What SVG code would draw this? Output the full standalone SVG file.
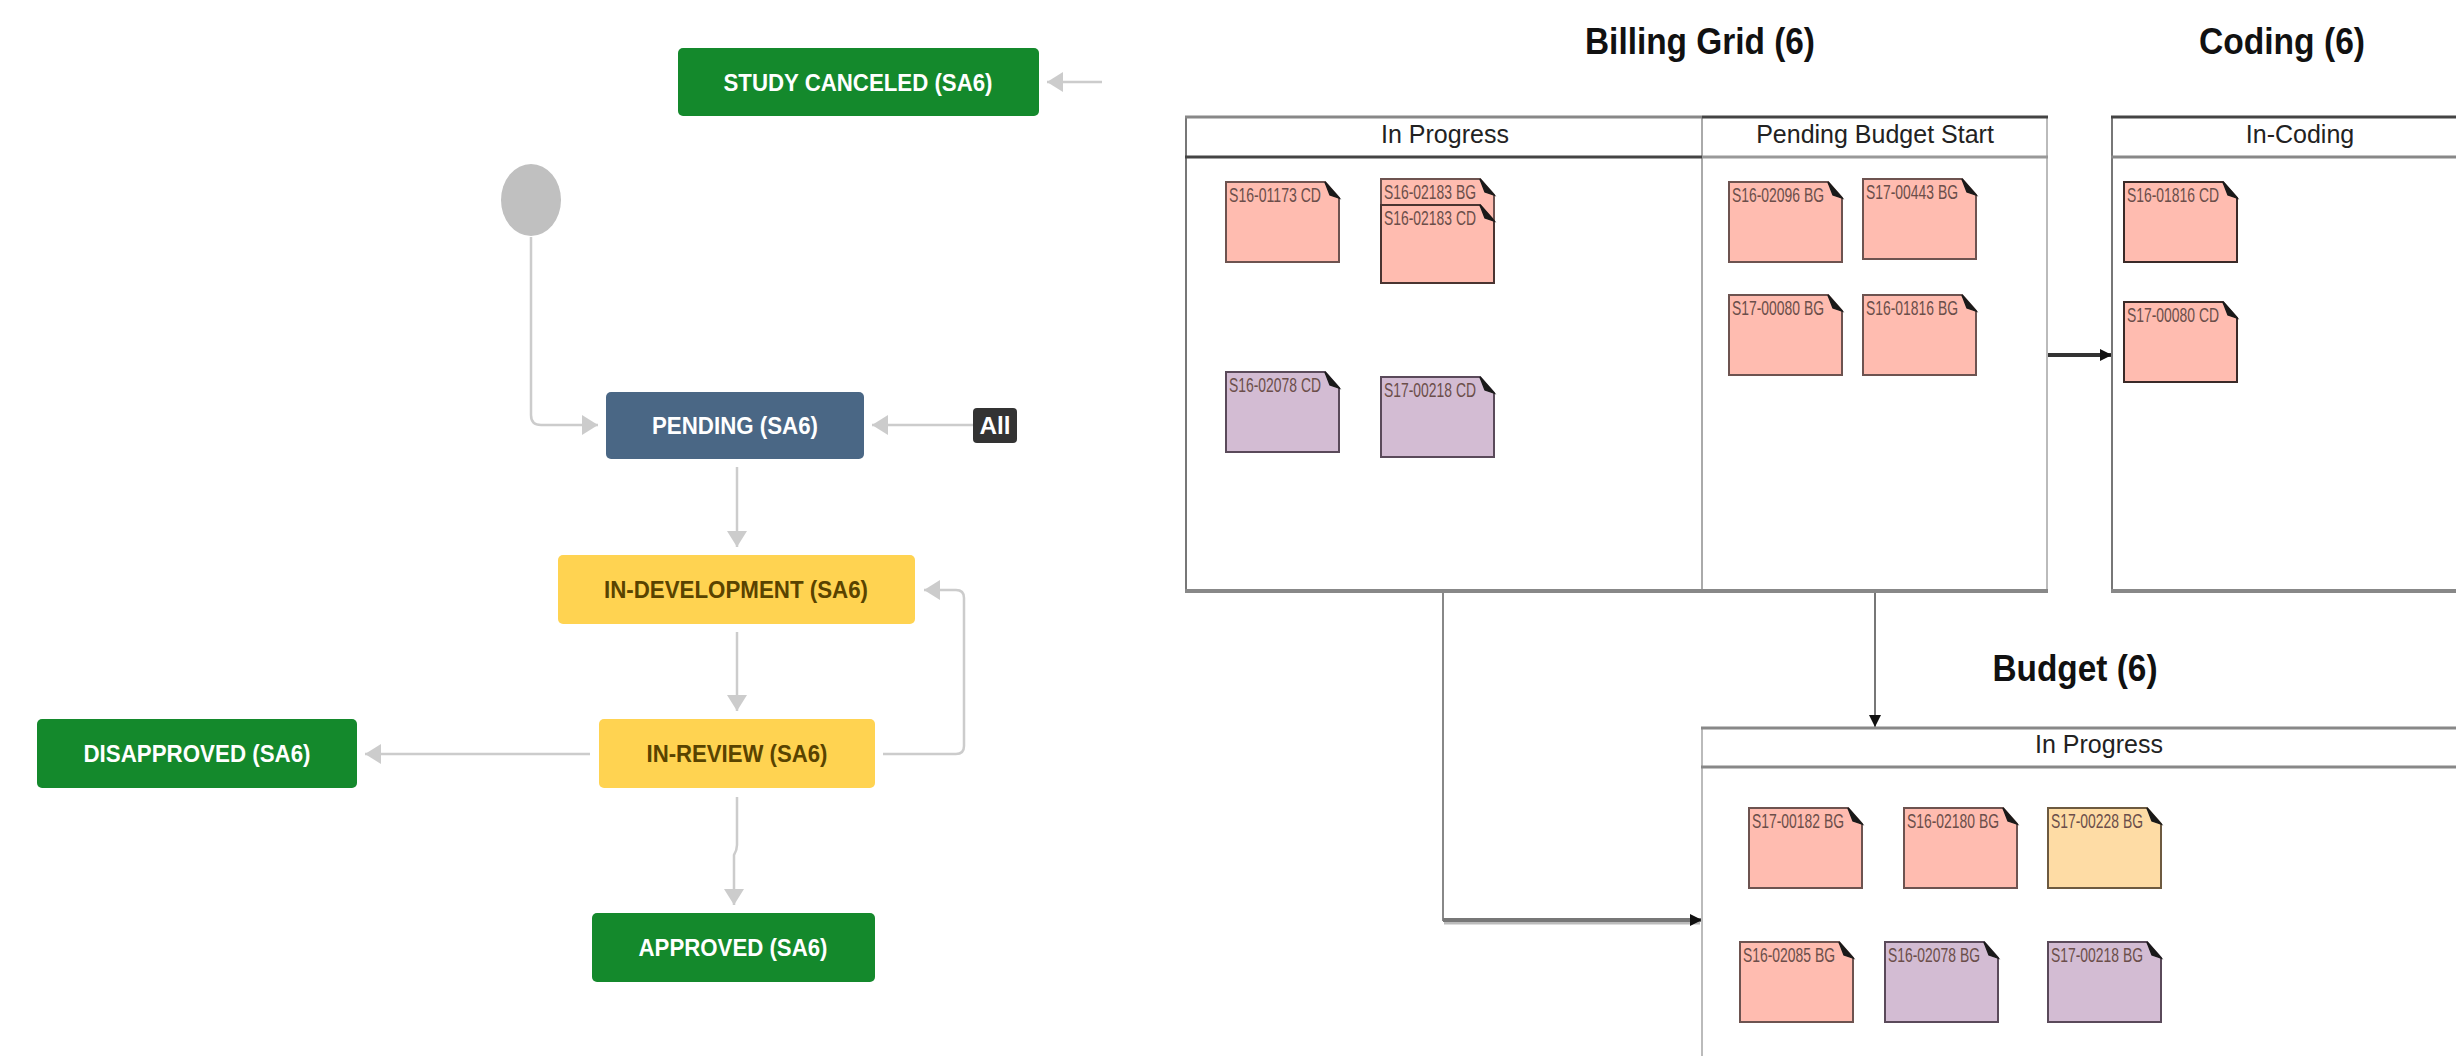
<svg xmlns="http://www.w3.org/2000/svg" xmlns:xlink="http://www.w3.org/1999/xlink" width="2456" height="1056" viewBox="0 0 2456 1056">
<style>
.wf{font-family:"Liberation Sans",Arial,sans-serif;font-weight:bold;font-size:24px;text-anchor:middle}
.wt{fill:#ffffff}
.yt{fill:#594300}
.green{fill:#14892c}
.blue{fill:#4a6785}
.yellow{fill:#ffd351}
.conn{fill:none;stroke:#cccccc;stroke-width:2.5}
.title{font-family:"Liberation Sans",Arial,sans-serif;font-weight:bold;font-size:36px;text-anchor:middle;fill:#111}
.hdr{font-family:"Liberation Sans",Arial,sans-serif;font-size:25px;text-anchor:middle;fill:#222}
.ctext{font-family:"Liberation Sans",Arial,sans-serif;font-size:20px;fill:#6b4e4a}
.pink{fill:#ffbcb0;stroke:#6d5350;stroke-width:2}
.purple{fill:#d3bcd3;stroke:#5a4a5a;stroke-width:2}
.peach{fill:#fedca5;stroke:#6d5a40;stroke-width:2}
.fold{fill:#1a1a1a;stroke:#1a1a1a;stroke-width:1.5}
</style>
<defs>
<marker id="ga" markerUnits="userSpaceOnUse" markerWidth="16" markerHeight="20" refX="16" refY="10" orient="auto">
<path d="M0,0 L16,10 L0,20 Z" fill="#cccccc"/>
</marker>
<marker id="ba" markerUnits="userSpaceOnUse" markerWidth="12" markerHeight="12" refX="12" refY="6" orient="auto">
<path d="M0,0 L12,6 L0,12 Z" fill="#111111"/>
</marker>
<path id="card" d="M0,0 H99 L113,16 V80 H0 Z"/>
<path id="card78" d="M0,0 H99 L113,16 V78 H0 Z"/>
<path id="foldp" d="M99,0 L113,16 L104,13 Z"/>
</defs>
<rect width="2456" height="1056" fill="#ffffff"/>

<g id="workflow-connectors">
<line class="conn" x1="1102" y1="82" x2="1047" y2="82" marker-end="url(#ga)"/>
<path class="conn" d="M531,237 V415 Q531,425 541,425 H598" marker-end="url(#ga)"/>
<line class="conn" x1="973" y1="425" x2="872" y2="425" marker-end="url(#ga)"/>
<line class="conn" x1="737" y1="467" x2="737" y2="547" marker-end="url(#ga)"/>
<line class="conn" x1="737" y1="632" x2="737" y2="711" marker-end="url(#ga)"/>
<line class="conn" x1="590" y1="754" x2="365" y2="754" marker-end="url(#ga)"/>
<path class="conn" d="M883,754 H956 Q964,754 964,746 V598 Q964,590 956,590 H924" marker-end="url(#ga)"/>
<path class="conn" d="M737,797 V845 Q737,850 734,855 L734,905" marker-end="url(#ga)"/>
</g>

<g id="start"><ellipse cx="531" cy="200" rx="30" ry="36" fill="#c0c0c0"/></g>
<g id="study-canceled">
<rect class="green" x="678" y="48" width="361" height="68" rx="5"/>
<text class="wf wt" x="858" y="91" textLength="269" lengthAdjust="spacingAndGlyphs">STUDY CANCELED (SA6)</text>
</g>
<g id="pending">
<rect class="blue" x="606" y="392" width="258" height="67" rx="5"/>
<text class="wf wt" x="735" y="434" textLength="166" lengthAdjust="spacingAndGlyphs">PENDING (SA6)</text>
</g>
<g id="all">
<rect x="973" y="408" width="44" height="35" rx="4" fill="#333333"/>
<text class="wf wt" x="995" y="434" textLength="31" lengthAdjust="spacingAndGlyphs">All</text>
</g>
<g id="in-development">
<rect class="yellow" x="558" y="555" width="357" height="69" rx="5"/>
<text class="wf yt" x="736" y="598" textLength="264" lengthAdjust="spacingAndGlyphs">IN-DEVELOPMENT (SA6)</text>
</g>
<g id="in-review">
<rect class="yellow" x="599" y="719" width="276" height="69" rx="5"/>
<text class="wf yt" x="737" y="762" textLength="181" lengthAdjust="spacingAndGlyphs">IN-REVIEW (SA6)</text>
</g>
<g id="disapproved">
<rect class="green" x="37" y="719" width="320" height="69" rx="5"/>
<text class="wf wt" x="197" y="762" textLength="227" lengthAdjust="spacingAndGlyphs">DISAPPROVED (SA6)</text>
</g>
<g id="approved">
<rect class="green" x="592" y="913" width="283" height="69" rx="5"/>
<text class="wf wt" x="733" y="956" textLength="189" lengthAdjust="spacingAndGlyphs">APPROVED (SA6)</text>
</g>

<g id="board-connectors">
<line x1="2047" y1="355" x2="2112" y2="355" stroke="#333333" stroke-width="4" marker-end="url(#ba)"/>
<line x1="1875" y1="592" x2="1875" y2="727" stroke="#777777" stroke-width="2" marker-end="url(#ba)"/>
<line x1="1443" y1="592" x2="1443" y2="921" stroke="#888888" stroke-width="2"/>
<line x1="1444" y1="923" x2="1700" y2="923" stroke="#bbbbbb" stroke-width="3"/>
<line x1="1443" y1="920" x2="1702" y2="920" stroke="#777777" stroke-width="4" marker-end="url(#ba)"/>
</g>

<g id="billing-grid">
<text class="title" x="1700" y="54" textLength="230" lengthAdjust="spacingAndGlyphs">Billing Grid (6)</text>
<line x1="1186" y1="116" x2="1186" y2="592" stroke="#777" stroke-width="2"/>
<line x1="1702" y1="116" x2="1702" y2="592" stroke="#aaa" stroke-width="2"/>
<line x1="2047" y1="116" x2="2047" y2="592" stroke="#bbb" stroke-width="2"/>
<line x1="1185" y1="117" x2="1702" y2="117" stroke="#888" stroke-width="3"/>
<line x1="1702" y1="117" x2="2048" y2="117" stroke="#444" stroke-width="3"/>
<line x1="1185" y1="157" x2="1702" y2="157" stroke="#444" stroke-width="3"/>
<line x1="1702" y1="157" x2="2048" y2="157" stroke="#999" stroke-width="3"/>
<line x1="1185" y1="591" x2="2048" y2="591" stroke="#888" stroke-width="4"/>
<text class="hdr" x="1445" y="143">In Progress</text>
<text class="hdr" x="1875" y="143">Pending Budget Start</text>
</g>

<g id="coding">
<text class="title" x="2282" y="54" textLength="166" lengthAdjust="spacingAndGlyphs">Coding (6)</text>
<line x1="2112" y1="116" x2="2112" y2="592" stroke="#777" stroke-width="2"/>
<line x1="2111" y1="117" x2="2456" y2="117" stroke="#444" stroke-width="3"/>
<line x1="2111" y1="157" x2="2456" y2="157" stroke="#888" stroke-width="3"/>
<line x1="2111" y1="591" x2="2456" y2="591" stroke="#888" stroke-width="4"/>
<text class="hdr" x="2300" y="143">In-Coding</text>
</g>

<g id="budget">
<text class="title" x="2075" y="681" textLength="165" lengthAdjust="spacingAndGlyphs">Budget (6)</text>
<line x1="1702" y1="727" x2="1702" y2="1056" stroke="#bbb" stroke-width="2"/>
<line x1="1701" y1="728" x2="2456" y2="728" stroke="#888" stroke-width="3"/>
<line x1="1701" y1="767" x2="2456" y2="767" stroke="#888" stroke-width="3"/>
<text class="hdr" x="2099" y="753">In Progress</text>
</g>

<g id="card-s16-01173-cd" transform="translate(1226,182)"><use href="#card" class="pink"/><use href="#foldp" class="fold"/><text class="ctext" x="3" y="20" textLength="92" lengthAdjust="spacingAndGlyphs">S16-01173 CD</text></g>
<g id="card-s16-02183-bg" transform="translate(1381,179)"><use href="#card" class="pink"/><use href="#foldp" class="fold"/><text class="ctext" x="3" y="20" textLength="92" lengthAdjust="spacingAndGlyphs">S16-02183 BG</text></g>
<g id="card-s16-02183-cd" transform="translate(1381,205)"><use href="#card78" class="pink" style="stroke:#4a3431"/><use href="#foldp" class="fold"/><text class="ctext" x="3" y="20" textLength="92" lengthAdjust="spacingAndGlyphs">S16-02183 CD</text></g>
<g id="card-s16-02078-cd" transform="translate(1226,372)"><use href="#card" class="purple"/><use href="#foldp" class="fold"/><text class="ctext" x="3" y="20" textLength="92" lengthAdjust="spacingAndGlyphs" fill="#5a4a5a">S16-02078 CD</text></g>
<g id="card-s17-00218-cd" transform="translate(1381,377)"><use href="#card" class="purple"/><use href="#foldp" class="fold"/><text class="ctext" x="3" y="20" textLength="92" lengthAdjust="spacingAndGlyphs" fill="#5a4a5a">S17-00218 CD</text></g>
<g id="card-s16-02096-bg" transform="translate(1729,182)"><use href="#card" class="pink"/><use href="#foldp" class="fold"/><text class="ctext" x="3" y="20" textLength="92" lengthAdjust="spacingAndGlyphs">S16-02096 BG</text></g>
<g id="card-s17-00443-bg" transform="translate(1863,179)"><use href="#card" class="pink"/><use href="#foldp" class="fold"/><text class="ctext" x="3" y="20" textLength="92" lengthAdjust="spacingAndGlyphs">S17-00443 BG</text></g>
<g id="card-s17-00080-bg" transform="translate(1729,295)"><use href="#card" class="pink"/><use href="#foldp" class="fold"/><text class="ctext" x="3" y="20" textLength="92" lengthAdjust="spacingAndGlyphs">S17-00080 BG</text></g>
<g id="card-s16-01816-bg" transform="translate(1863,295)"><use href="#card" class="pink"/><use href="#foldp" class="fold"/><text class="ctext" x="3" y="20" textLength="92" lengthAdjust="spacingAndGlyphs">S16-01816 BG</text></g>
<g id="card-s16-01816-cd" transform="translate(2124,182)"><use href="#card" class="pink" style="stroke:#3a2a28"/><use href="#foldp" class="fold"/><text class="ctext" x="3" y="20" textLength="92" lengthAdjust="spacingAndGlyphs">S16-01816 CD</text></g>
<g id="card-s17-00080-cd" transform="translate(2124,302)"><use href="#card" class="pink" style="stroke:#3a2a28"/><use href="#foldp" class="fold"/><text class="ctext" x="3" y="20" textLength="92" lengthAdjust="spacingAndGlyphs">S17-00080 CD</text></g>
<g id="card-s17-00182-bg" transform="translate(1749,808)"><use href="#card" class="pink"/><use href="#foldp" class="fold"/><text class="ctext" x="3" y="20" textLength="92" lengthAdjust="spacingAndGlyphs">S17-00182 BG</text></g>
<g id="card-s16-02180-bg" transform="translate(1904,808)"><use href="#card" class="pink"/><use href="#foldp" class="fold"/><text class="ctext" x="3" y="20" textLength="92" lengthAdjust="spacingAndGlyphs">S16-02180 BG</text></g>
<g id="card-s17-00228-bg" transform="translate(2048,808)"><use href="#card" class="peach"/><use href="#foldp" class="fold"/><text class="ctext" x="3" y="20" textLength="92" lengthAdjust="spacingAndGlyphs" fill="#6d5a40">S17-00228 BG</text></g>
<g id="card-s16-02085-bg" transform="translate(1740,942)"><use href="#card" class="pink"/><use href="#foldp" class="fold"/><text class="ctext" x="3" y="20" textLength="92" lengthAdjust="spacingAndGlyphs">S16-02085 BG</text></g>
<g id="card-s16-02078-bg" transform="translate(1885,942)"><use href="#card" class="purple"/><use href="#foldp" class="fold"/><text class="ctext" x="3" y="20" textLength="92" lengthAdjust="spacingAndGlyphs" fill="#5a4a5a">S16-02078 BG</text></g>
<g id="card-s17-00218-bg" transform="translate(2048,942)"><use href="#card" class="purple"/><use href="#foldp" class="fold"/><text class="ctext" x="3" y="20" textLength="92" lengthAdjust="spacingAndGlyphs" fill="#5a4a5a">S17-00218 BG</text></g>
</svg>
